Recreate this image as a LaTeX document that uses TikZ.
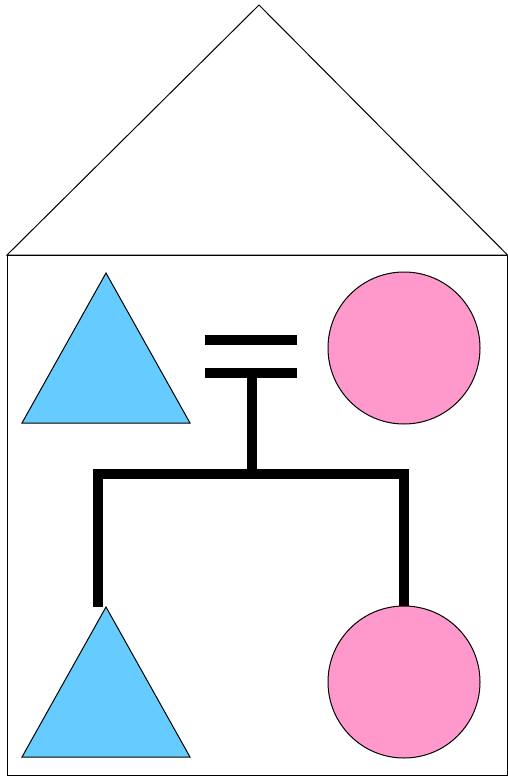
\documentclass[tikz,border=0pt]{standalone}
\usepackage{xcolor}
\usepackage{tikz}
\definecolor{maleblue}{RGB}{102,204,255}
\definecolor{femalepink}{RGB}{255,153,204}
\tikzset{
	outline/.style={draw=black, line width=1pt},
	kin/.style={line width=10pt},
	female/.style={circle, outline, fill=femalepink, minimum size=152pt, inner sep=0pt}
}

\begin{document}
\begin{tikzpicture}[x=1pt,y=-1pt]
	\useasboundingbox (0,0) rectangle (508,776);
	
	\coordinate (R) at (259,5);
	\coordinate (HL) at (7,255);
	\coordinate (HR) at (507.5,255);
	\coordinate (BR) at (507.5,775);
	
	\coordinate (F) at (106,273);
	\coordinate (F1) at (22,423);
	\coordinate (F2) at (190,423);
	\coordinate (S) at (106,607);
	\coordinate (S1) at (22,757);
	\coordinate (S2) at (190,757);
	
	\coordinate (E1) at (205,340);
	\coordinate (E2) at (297,340);
	\coordinate (E3) at (205,373);
	\coordinate (E4) at (297,373);
	\coordinate (E5) at (252,373);
	\coordinate (J) at (252,474);
	\coordinate (SL) at (98,607);
	
	% house
	\draw[line width=1pt] (HL) -- (R) -- (HR) -- cycle;
	\draw[line width=1pt] (HL) rectangle (BR);
	
	% parents
	\draw[outline, fill=maleblue] (F) -- (F1) -- (F2) -- cycle;
	\node[female] (M) at (404,348) {};
	
	% children
	\draw[outline, fill=maleblue] (S) -- (S1) -- (S2) -- cycle;
	\node[female] (D) at (404,682) {};
	
	% marriage and descent lines
	\draw[kin] (E1) -- (E2);
	\draw[kin] (E3) -- (E4);
	\draw[kin] (E5) -- (J);
	\draw[kin] (SL) -- (SL |- J) -- (D.north |- J) -- (D.north);
\end{tikzpicture}
\end{document}
